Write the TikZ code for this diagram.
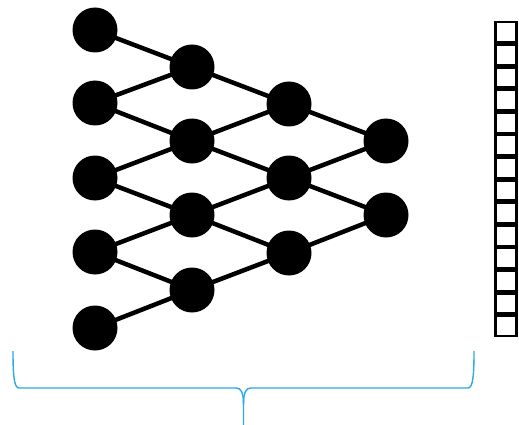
\documentclass[tikz,border=0pt]{standalone}
\definecolor{bracecol}{RGB}{41,171,226}
\begin{document}
\begin{tikzpicture}[x=1pt,y=-1pt,
  neuron/.style={circle,fill=black,minimum size=45pt,inner sep=0pt},
  edge/.style={line width=4.5pt,black},
  cell/.style={draw=black,line width=2.4pt,minimum width=21pt,minimum height=20.2pt,inner sep=0pt,fill=white},
  bracestyle/.style={draw=bracecol,line width=1.4pt}]
\useasboundingbox (0,0) rectangle (519,425);
% nodes
\foreach \i/\y in {1/30,2/103,3/178,4/252,5/328} \node[neuron] (a\i) at (95,\y) {};
\foreach \i/\y in {1/67,2/141,3/215,4/290} \node[neuron] (b\i) at (192,\y) {};
\foreach \i/\y in {1/104,2/178,3/253} \node[neuron] (c\i) at (289,\y) {};
\foreach \i/\y in {1/141,2/215} \node[neuron] (d\i) at (386,\y) {};
% edges
\begin{scope}[edge]
\draw (a1.center) -- (b1.center);
\draw (a2.center) -- (b1.center); \draw (a2.center) -- (b2.center);
\draw (a3.center) -- (b2.center); \draw (a3.center) -- (b3.center);
\draw (a4.center) -- (b3.center); \draw (a4.center) -- (b4.center);
\draw (a5.center) -- (b4.center);
\draw (b1.center) -- (c1.center);
\draw (b2.center) -- (c1.center); \draw (b2.center) -- (c2.center);
\draw (b3.center) -- (c2.center); \draw (b3.center) -- (c3.center);
\draw (b4.center) -- (c3.center);
\draw (c1.center) -- (d1.center);
\draw (c2.center) -- (d1.center); \draw (c2.center) -- (d2.center);
\draw (c3.center) -- (d2.center);
\end{scope}
% vector of cells
\foreach \k in {0,...,13} \node[cell] (s\k) at (506,{21+11.3+22.6*\k}) {};
% brace
\coordinate (bl) at (13,351);
\coordinate (br) at (474,351);
\coordinate (tip) at (243.5,425);
\draw[bracestyle] (bl) .. controls (13,375) and (14,388) .. (19,388) -- (236,388)
  .. controls (241,388) and (243.5,392) .. (243.5,405) -- (tip);
\draw[bracestyle] (br) .. controls (474,375) and (473,388) .. (468,388) -- (251,388)
  .. controls (246,388) and (243.5,392) .. (243.5,405);
\end{tikzpicture}
\end{document}
